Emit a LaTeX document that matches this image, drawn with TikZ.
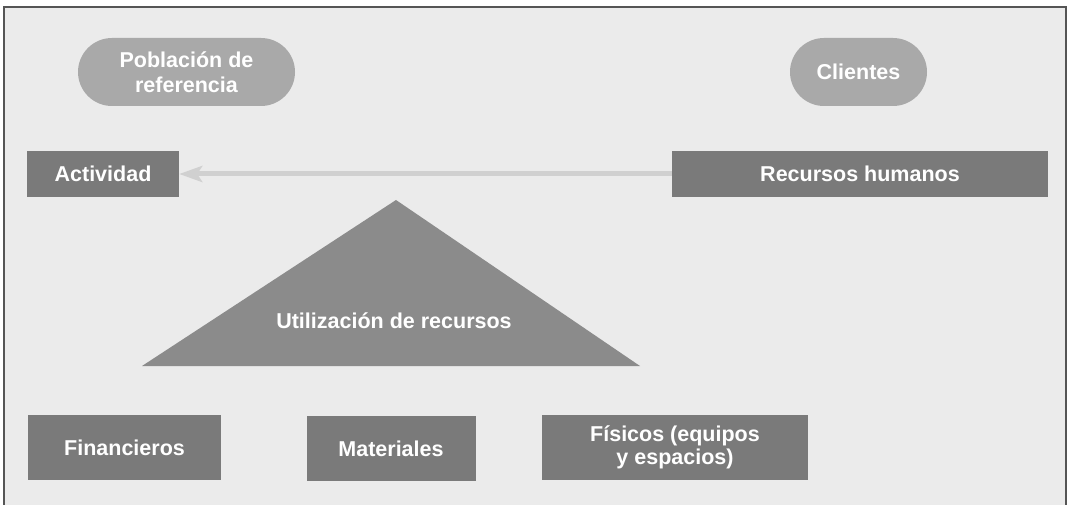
\documentclass[tikz,border=0pt]{standalone}
\usepackage{fontspec}
\setmainfont{Liberation Sans}
\usetikzlibrary{arrows.meta}
\definecolor{bgc}{HTML}{EBEBEB}
\definecolor{ovalc}{HTML}{A9A9A9}
\definecolor{boxc}{HTML}{7A7A7A}
\definecolor{tric}{HTML}{8B8B8B}
\definecolor{arrc}{HTML}{D0D0D0}
\definecolor{framec}{HTML}{555555}
\begin{document}
\begin{tikzpicture}[x=1pt,y=-1pt,
  lbl/.style={text=white,font=\fontsize{21.5}{24}\selectfont\bfseries,align=center,inner sep=0pt},
  ovalbox/.style={lbl,fill=ovalc,rounded corners=34pt,minimum height=68pt},
  darkbox/.style={lbl,fill=boxc},
  arrowline/.style={draw=arrc,line width=5pt,-{Stealth[length=23pt,width=16pt,inset=5pt]}}]
\useasboundingbox (0,0) rectangle (1076,505);
\fill[white] (0,0) rectangle (1076,505);
\fill[bgc] (4,7) rectangle (1066,510);
\draw[framec,line width=1.5pt] (4,510) -- (4,7) -- (1066,7) -- (1066,510);
\node[ovalbox,minimum width=217pt,font=\fontsize{21.5}{25}\selectfont\bfseries] (pob) at (186.5,72) {Población de\\referencia};
\node[ovalbox,minimum width=137pt] (cli) at (858.5,72) {Clientes};
\node[darkbox,minimum width=152pt,minimum height=46pt] (act) at (103,174) {Actividad};
\node[darkbox,minimum width=376pt,minimum height=46pt] (rh) at (860,174) {Recursos humanos};
\draw[arrowline] (rh.west) -- (act.east);
\fill[tric] (142,366) -- (640,366) -- (396,200) -- cycle;
\node[lbl] (util) at (394,321) {Utilización de recursos};
\node[darkbox,minimum width=193pt,minimum height=65pt] (fin) at (124.5,447.5) {Financieros};
\node[darkbox,minimum width=169pt,minimum height=65pt] (mat) at (391,448.5) {Materiales};
\node[darkbox,minimum width=266pt,minimum height=65pt,font=\fontsize{21.5}{23}\selectfont\bfseries] (fis) at (675,447.5) {Físicos (equipos\\y espacios)};
\end{tikzpicture}
\end{document}
